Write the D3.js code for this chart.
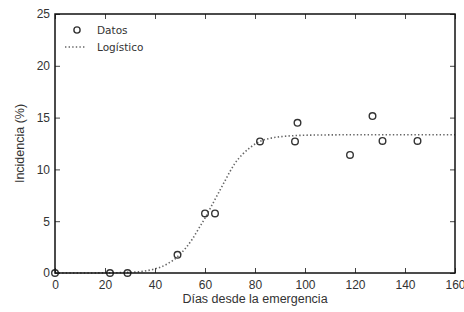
<!DOCTYPE html>
<html>
<head>
<meta charset="utf-8">
<script src="https://cdn.jsdelivr.net/npm/d3@7"></script>
<style>
  body { margin: 0; background: #fff; }
  svg { display: block; font-family: "Liberation Sans", Arial, sans-serif; }
  .tick-label { font-size: 12px; fill: #333; }
  .axis-title { font-size: 12.5px; fill: #333; }
  .legend-text { font-size: 10.5px; fill: #333; font-family: "DejaVu Sans", sans-serif; }
</style>
</head>
<body>
<svg id="chart" width="464" height="312"></svg>
<script>
// observed data (days since emergence, incidence %)
const dataDays = [0, 22, 29, 49, 60, 64, 82, 96, 97, 118, 127, 131, 145];
const dataIncidence = [0, 0, 0, 1.75, 5.75, 5.75, 12.7, 12.7, 14.5, 11.4, 15.15, 12.75, 12.75];

// fitted logistic curve
const curveDays = [0, 20, 30, 35, 40, 45, 50, 55, 58, 60, 62, 64, 66, 68, 70, 72, 75, 78, 82, 86, 90, 95, 100, 110, 120, 140, 160];
const curveIncidence = [0, 0.01, 0.07, 0.16, 0.4, 0.88, 1.8, 3.3, 4.5, 5.3, 6.2, 7.1, 8.0, 8.9, 9.8, 10.6, 11.45, 12.1, 12.7, 13.0, 13.15, 13.25, 13.3, 13.33, 13.35, 13.35, 13.35];

const xTicks = [0, 20, 40, 60, 80, 100, 120, 140, 160];
const yTicks = [0, 5, 10, 15, 20, 25];

const svg = d3.select("#chart");
const plotLeft = 55, plotRight = 455, plotTop = 14, plotBottom = 273;

const x = d3.scaleLinear().domain([0, 160]).range([plotLeft, plotRight]);
const y = d3.scaleLinear().domain([0, 25]).range([plotBottom, plotTop]);

const plot = svg.append("g");

// logistic curve
const curvePoints = curveDays.map((d, i) => [d, curveIncidence[i]]);
plot.append("path")
  .datum(curvePoints)
  .attr("fill", "none")
  .attr("stroke", "#666")
  .attr("stroke-width", 1.6)
  .attr("stroke-dasharray", "1.4,2.2")
  .attr("d", d3.line().x(d => x(d[0])).y(d => y(d[1])).curve(d3.curveMonotoneX));

// data points
plot.selectAll(".pt")
  .data(dataDays.map((d, i) => [d, dataIncidence[i]]))
  .join("circle")
  .attr("class", "pt")
  .attr("cx", d => x(d[0]))
  .attr("cy", d => y(d[1]))
  .attr("r", 3.3)
  .attr("fill", "none")
  .attr("stroke", "#333")
  .attr("stroke-width", 1.4);

// axes (ticks pointing inward on all four sides)
const tickLen = 5;
svg.append("g").attr("transform", `translate(0,${plotBottom})`)
  .call(d3.axisBottom(x).tickValues(xTicks).tickSize(-tickLen).tickPadding(7).tickFormat(d3.format("d")))
  .call(g => g.select(".domain").remove());
svg.append("g").attr("transform", `translate(0,${plotTop})`)
  .call(d3.axisTop(x).tickValues(xTicks).tickSize(-tickLen).tickFormat(""))
  .call(g => g.select(".domain").remove());
svg.append("g").attr("transform", `translate(${plotLeft},0)`)
  .call(d3.axisLeft(y).tickValues(yTicks).tickSize(-tickLen).tickPadding(5).tickFormat(d3.format("d")))
  .call(g => g.select(".domain").remove());
svg.append("g").attr("transform", `translate(${plotRight},0)`)
  .call(d3.axisRight(y).tickValues(yTicks).tickSize(-tickLen).tickFormat(""))
  .call(g => g.select(".domain").remove());

svg.selectAll(".tick line").attr("stroke", "#444").attr("stroke-width", 1);
svg.selectAll(".tick text").attr("class", "tick-label").attr("font-family", null).attr("font-size", null);

// frame
svg.append("rect")
  .attr("x", plotLeft).attr("y", plotTop)
  .attr("width", plotRight - plotLeft).attr("height", plotBottom - plotTop)
  .attr("fill", "none").attr("stroke", "#111").attr("stroke-width", 1.5);

// axis titles
svg.append("text").attr("class", "axis-title")
  .attr("x", (plotLeft + plotRight) / 2).attr("y", 303)
  .attr("text-anchor", "middle")
  .text("Días desde la emergencia");
svg.append("text").attr("class", "axis-title")
  .attr("transform", `translate(24,${(plotTop + plotBottom) / 2}) rotate(-90)`)
  .attr("text-anchor", "middle")
  .text("Incidencia (%)");

// legend
const legend = svg.append("g");
legend.append("circle").attr("cx", 77).attr("cy", 30).attr("r", 3.1)
  .attr("fill", "none").attr("stroke", "#333").attr("stroke-width", 1.4);
legend.append("line").attr("x1", 65).attr("x2", 86).attr("y1", 47).attr("y2", 47)
  .attr("stroke", "#666").attr("stroke-width", 1.4).attr("stroke-dasharray", "1.4,2.2");
legend.append("text").attr("class", "legend-text").attr("x", 97).attr("y", 34).text("Datos");
legend.append("text").attr("class", "legend-text").attr("x", 97).attr("y", 51).text("Logístico");
</script>
</body>
</html>
